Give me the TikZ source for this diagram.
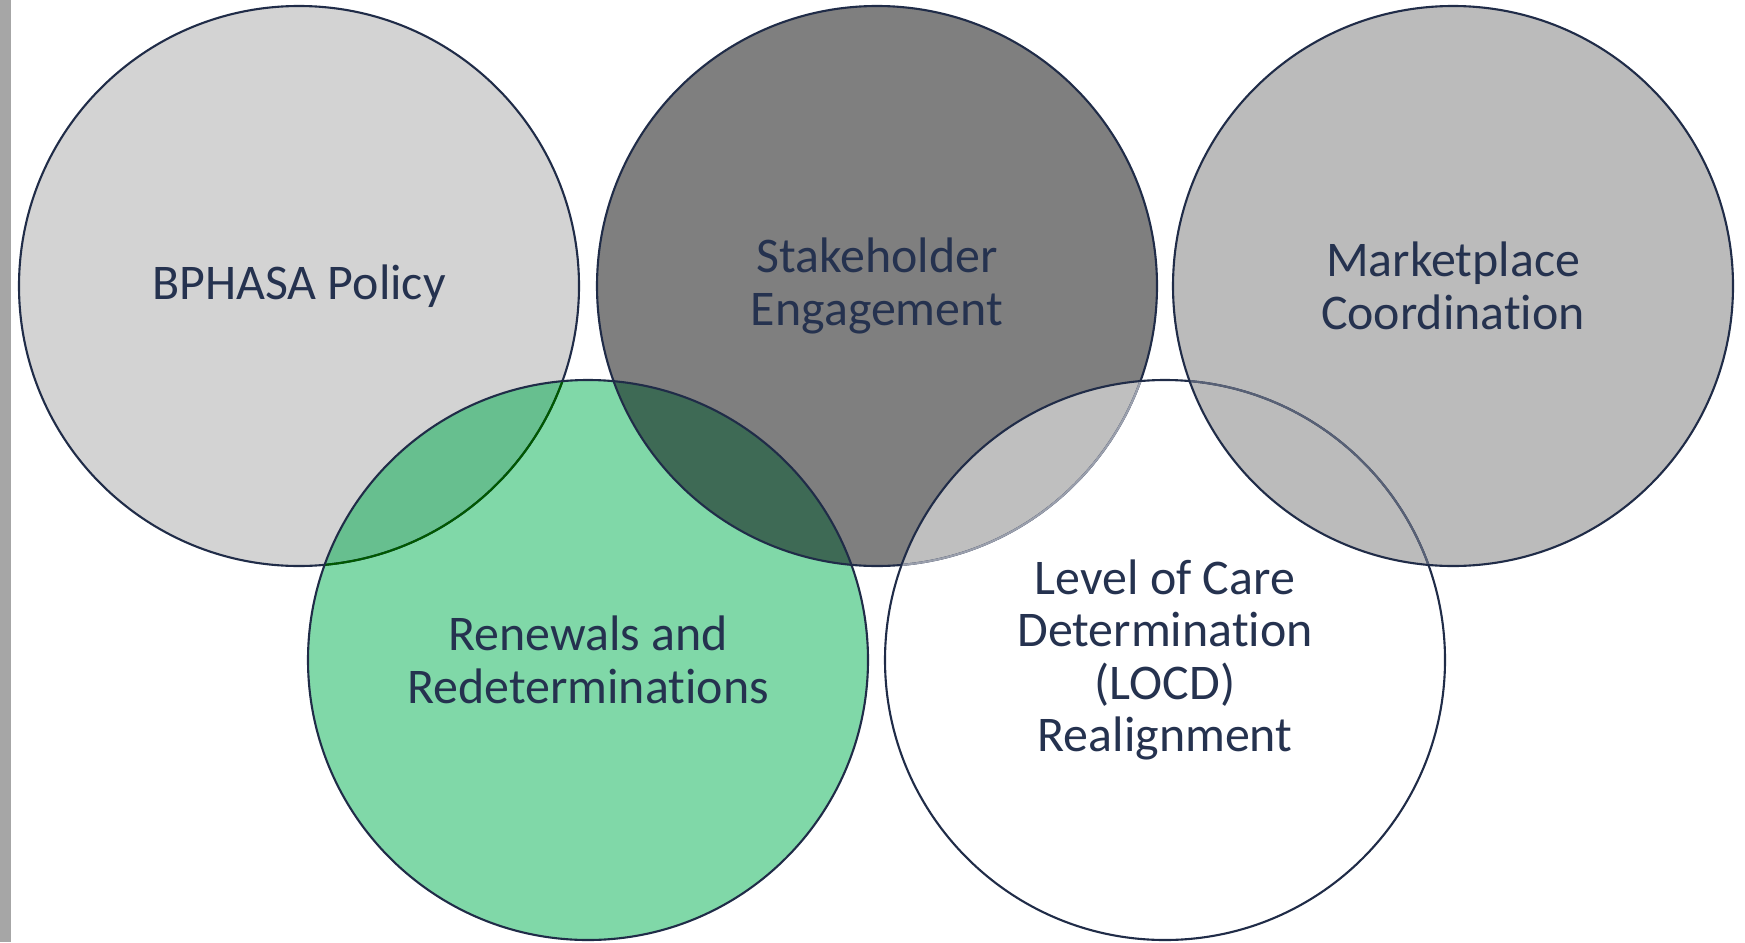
\documentclass[tikz,border=0pt]{standalone}
\usepackage{fontspec}
\usepackage{tikz}
\setmainfont{Carlito}[RawFeature={-liga,-clig,-dlig,-calt}]
\definecolor{bar-gray}{HTML}{A6A6A6}
\definecolor{policy-gray}{HTML}{D3D3D3}
\definecolor{stake-gray}{HTML}{7F7F7F}
\definecolor{market-gray}{HTML}{BBBBBB}
\definecolor{renew-green}{HTML}{80D8A8}
\definecolor{mix-light}{HTML}{67BF8F}
\definecolor{mix-dark}{HTML}{3E6A55}
\definecolor{mix-gray}{HTML}{BFBFBF}
\definecolor{line-navy}{HTML}{202C48}
\definecolor{text-navy}{HTML}{25324F}

\begin{document}
\begin{tikzpicture}[x=0.1mm, y=0.1mm,
    ring/.style={draw=line-navy, line width=0.6pt},
    caption/.style={text=text-navy, align=center, font=\fontsize{14.2}{14.9}\selectfont}]
    \useasboundingbox (0,0) rectangle (1745,942);
    \fill[bar-gray] (0,0) rectangle (11,942);

    % circle centres
    \coordinate (cpolicy) at (299,656);
    \coordinate (cstake) at (877,656);
    \coordinate (cmarket) at (1453,656);
    \coordinate (crenew) at (588,282);
    \coordinate (clocd) at (1165,282);

    % fills
    \fill[policy-gray] (cpolicy) circle[radius=280];
    \fill[stake-gray] (cstake) circle[radius=280];
    \fill[renew-green] (crenew) circle[radius=280];
    \fill[white] (clocd) circle[radius=280];
    \fill[market-gray] (cmarket) circle[radius=280];

    % overlaps
    \begin{scope}
        \clip (crenew) circle[radius=280];
        \fill[mix-light] (cpolicy) circle[radius=280];
        \fill[mix-dark] (cstake) circle[radius=280];
    \end{scope}
    \begin{scope}
        \clip (clocd) circle[radius=280];
        \fill[mix-gray] (cstake) circle[radius=280];
    \end{scope}

    % outlines
    \draw[ring] (cpolicy) circle[radius=280];
    \draw[ring] (cstake) circle[radius=280];
    \draw[ring] (cmarket) circle[radius=280];
    \draw[ring] (crenew) circle[radius=280];
    \draw[ring] (clocd) circle[radius=280];
    \begin{scope}
        \clip (crenew) circle[radius=279];
        \draw[ring, draw=green!35!black] (cpolicy) circle[radius=280];
    \end{scope}
    \begin{scope}
        \clip (clocd) circle[radius=279];
        \draw[ring, draw=line-navy!45] (cstake) circle[radius=280];
    \end{scope}
    \begin{scope}
        \clip (cmarket) circle[radius=279];
        \draw[ring, draw=line-navy!75] (clocd) circle[radius=280];
    \end{scope}

    % labels
    \node[caption] (policy) at (cpolicy) {BPHASA Policy};
    \node[caption] (stake) at (cstake) {Stakeholder\\Engagement};
    \node[caption] (market) at (cmarket) {Marketplace\\Coordination};
    \node[caption] (renew) at (crenew) {Renewals and\\Redeterminations};
    \node[caption] (locd) at (clocd) {Level of Care\\Determination\\(LOCD)\\Realignment};
\end{tikzpicture}
\end{document}
